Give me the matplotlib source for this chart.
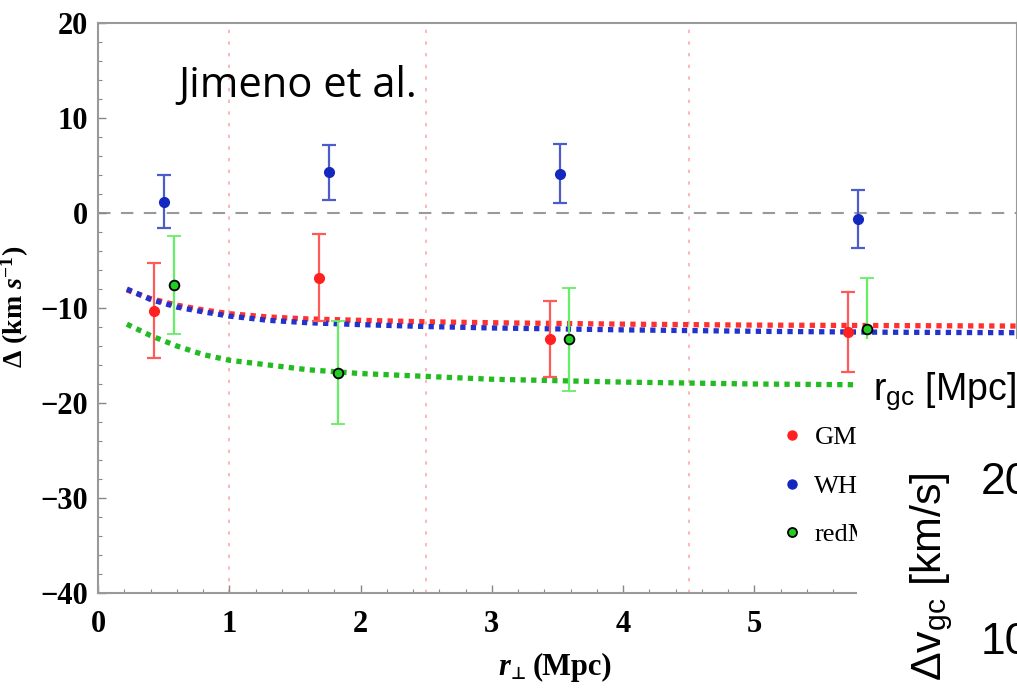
import matplotlib
matplotlib.use("Agg")
import matplotlib.pyplot as plt
from matplotlib.patches import Rectangle
from matplotlib.lines import Line2D

plt.rcParams["font.family"] = ["Liberation Serif"]
plt.rcParams["font.weight"] = "bold"
plt.rcParams["mathtext.fontset"] = "custom"
plt.rcParams["mathtext.rm"] = "Liberation Sans:weight=normal"
plt.rcParams["mathtext.it"] = "Liberation Serif:italic:bold"
plt.rcParams["mathtext.bf"] = "Liberation Serif:bold"

# Messpunkte (GMBCG, WHL, redMaPPer)
gm_x = [0.43, 1.68, 3.44, 5.71]
gm_y = [-10.3, -6.8, -13.3, -12.5]
gm_err = [5.0, 4.6, 4.0, 4.2]

wh_x = [0.50, 1.76, 3.52, 5.79]
wh_y = [1.2, 4.3, 4.15, -0.65]
wh_err = [2.8, 2.9, 3.1, 3.05]

rm_x = [0.58, 1.83, 3.59, 5.86]
rm_y = [-7.6, -16.8, -13.3, -12.2]
rm_err = [5.15, 5.4, 5.4, 5.4]

# Modellkurven
curve_x = [0.22, 0.4, 0.6, 0.8, 1.0, 1.3, 1.6, 2.0, 2.5, 3.0, 4.0, 5.0, 6.0, 7.0]
curve_gm = [-8.1, -9.0, -9.7, -10.2, -10.6, -10.95, -11.15, -11.3, -11.45, -11.55, -11.7, -11.8, -11.85, -11.9]
curve_wh = [-8.0, -9.1, -9.9, -10.4, -10.85, -11.3, -11.55, -11.75, -11.95, -12.1, -12.3, -12.45, -12.55, -12.6]
curve_rm = [-11.7, -12.9, -14.0, -14.9, -15.5, -16.0, -16.5, -16.9, -17.2, -17.5, -17.8, -18.0, -18.1, -18.3]

vlines_x = [1.0, 2.5, 4.5]
legend_labels = ["GMBCG", "WHL", "redMaPPer"]

W, H = 1017, 689
fig = plt.figure(figsize=(W / 100, H / 100), dpi=100)
ax = fig.add_axes([98 / W, 1 - 593 / H, 1 - 98 / W, (593 - 23) / H])

for xv in vlines_x:
    ax.axvline(xv, color="#ffaaaa", lw=1.2, ls=(0, (2, 5)), zorder=1)
ax.axhline(0, color="#999999", lw=1.5, ls=(0, (6, 5)), zorder=1)

dot = (0, (1, 1))
ax.plot(curve_x, curve_gm, color="#ff3030", lw=3.8, ls=dot, zorder=2)
ax.plot(curve_x, curve_wh, color="#2233cc", lw=3.8, ls=dot, zorder=2)
ax.plot(curve_x, curve_rm, color="#22bb22", lw=3.8, ls=dot, zorder=2)

ax.errorbar(gm_x, gm_y, yerr=gm_err, fmt="o", ms=7, color="#ff2020",
            ecolor="#ff5a5a", elinewidth=1.6, capsize=5, capthick=1.6, zorder=3)
ax.errorbar(wh_x, wh_y, yerr=wh_err, fmt="o", ms=7, color="#1428c0",
            ecolor="#4d5cc8", elinewidth=1.6, capsize=5, capthick=1.6, zorder=3)
ax.errorbar(rm_x, rm_y, yerr=rm_err, fmt="o", ms=7, mfc="#22cc22", mec="black",
            mew=1.3, ecolor="#66ee66", elinewidth=1.6, capsize=5, capthick=1.6, zorder=3)

ax.set_xlim(0, 7.0)
ax.set_ylim(-40, 20)
ax.set_xticks([0, 1, 2, 3, 4, 5, 6])
ax.set_xticklabels(["0", "1", "2", "3", "4", "5", ""])
ax.set_xticks([i * 0.2 for i in range(36)], minor=True)
ax.set_yticks([-40, -30, -20, -10, 0, 10, 20])
ax.set_yticks(range(-40, 21, 2), minor=True)
ax.tick_params(which="both", direction="in", color="#888888", top=False, right=False)
ax.tick_params(which="major", length=6, width=1, labelsize=22, pad=7)
ax.tick_params(which="minor", length=3, width=0.8)
ax.tick_params(axis="x", pad=12)
for s in ax.spines.values():
    s.set_color("#999999")
    s.set_linewidth(1.5)

# Achsenbeschriftungen
fig.text(15 / W, 1 - 307 / H, r"Δ (km $s^{\mathbf{-1}}$)", rotation=90,
         ha="center", va="center", fontsize=20, fontweight="bold")
# x-Label aus drei Teilen: r, tiefgestelltes ⊥, (Mpc)
fig.text(498 / W, 1 - 675 / H, "r", ha="left", va="baseline", fontsize=22,
         fontweight="bold", style="italic")
fig.text(511 / W, 1 - 679 / H, "⊥", family=["DejaVu Sans"], ha="left", va="baseline",
         fontsize=12, fontweight="bold")
fig.text(533 / W, 1 - 675 / H, "(Mpc)", ha="left", va="baseline", fontsize=22,
         fontweight="bold")

# Legende
handles = [
    Line2D([], [], ls="none", marker="o", ms=6.5, color="#ff2020"),
    Line2D([], [], ls="none", marker="o", ms=6.5, color="#1428c0"),
    Line2D([], [], ls="none", marker="o", ms=6.5, mfc="#22cc22", mec="black", mew=1.3),
]
ax.legend(handles, legend_labels, loc="upper left", bbox_to_anchor=(755 / W, 1 - 402 / H),
          bbox_transform=fig.transFigure, frameon=False,
          prop={"weight": "normal", "size": 19}, labelspacing=0.95, handletextpad=0.35,
          handlelength=1.0)

fig.text(178 / W, 1 - 97 / H, "Jimeno et al.", family="Open Sans", fontweight="normal",
         fontsize=30, va="baseline", ha="left")

# überdeckender Ausschnitt einer zweiten Abbildung
fig.patches.append(Rectangle((857 / W, 0), (W - 857) / W, (H - 339) / H,
                             transform=fig.transFigure, facecolor="white",
                             edgecolor="none", zorder=5))
fig.text(873 / W, 1 - 400 / H, r"r$_{\mathrm{gc}}$ [Mpc]", family="Liberation Sans",
         fontweight="normal", fontsize=27, va="baseline", ha="left", zorder=6)
fig.text(932 / W, 1 - 472 / H, r"Δv$_{\mathrm{gc}}$ [km/s]", family="Liberation Sans",
         fontweight="normal", fontsize=31, rotation=90, va="center", ha="right",
         rotation_mode="anchor", zorder=6)
fig.text(981 / W, 1 - 483 / H, "20", family="Liberation Sans", fontweight="normal",
         fontsize=32, va="center", ha="left", zorder=6)
fig.text(981 / W, 1 - 643 / H, "10", family="Liberation Sans", fontweight="normal",
         fontsize=32, va="center", ha="left", zorder=6)

fig.savefig("out.png", dpi=100)
